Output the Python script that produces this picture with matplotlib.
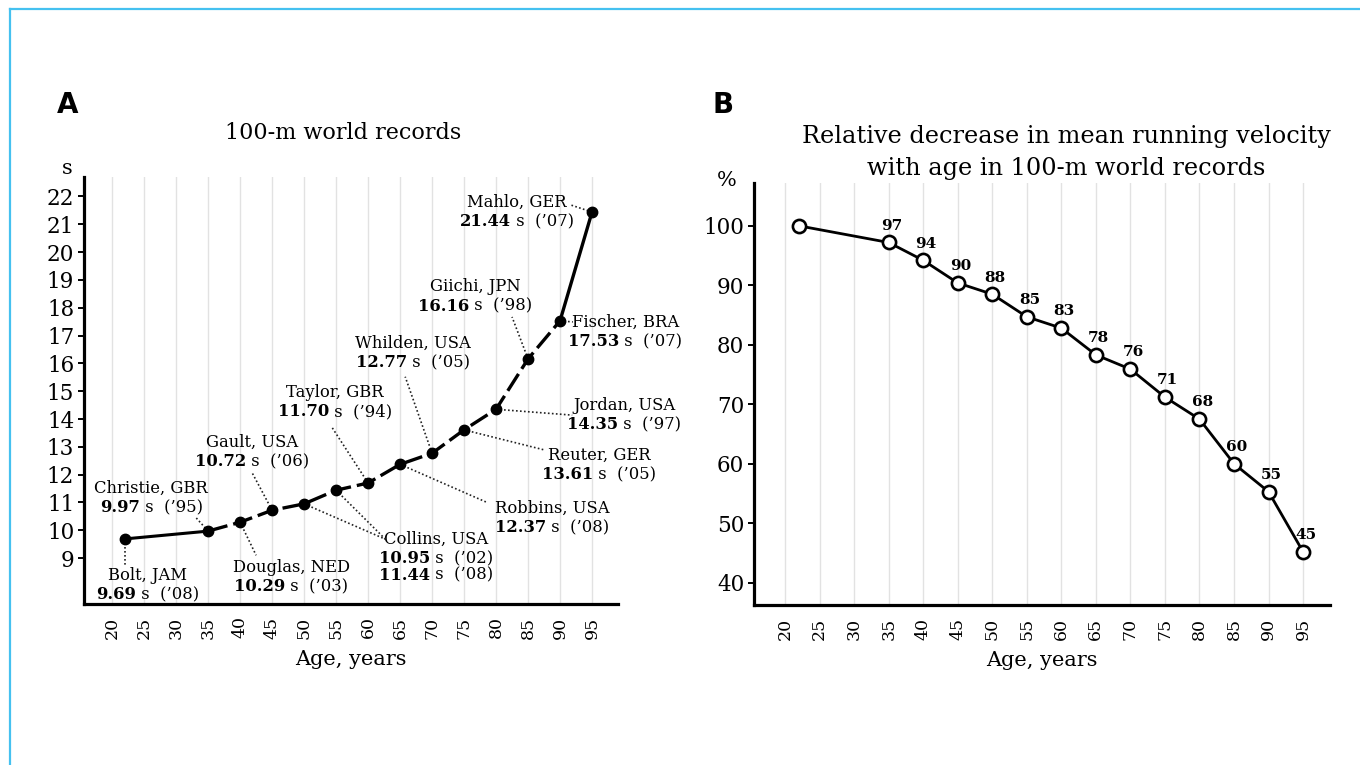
import matplotlib.pyplot as plt
from matplotlib import transforms as mtransforms
from matplotlib.lines import Line2D

## Data
ages = [22, 35, 40, 45, 50, 55, 60, 65, 70, 75, 80, 85, 90, 95]
record_times = [9.69, 9.97, 10.29, 10.72, 10.95, 11.44, 11.70, 12.37, 12.77,
                13.61, 14.35, 16.16, 17.53, 21.44]
athletes = ["Bolt, JAM", "Christie, GBR", "Douglas, NED", "Gault, USA",
            "Collins, USA", "Collins, USA", "Taylor, GBR", "Robbins, USA",
            "Whilden, USA", "Reuter, GER", "Jordan, USA", "Giichi, JPN",
            "Fischer, BRA", "Mahlo, GER"]
record_years = ["’08", "’95", "’03", "’06", "’02", "’08", "’94", "’08",
                "’05", "’05", "’97", "’98", "’07", "’07"]
rel_velocity = [100, 97.2, 94.2, 90.4, 88.5, 84.7, 82.8, 78.3, 75.9, 71.2,
                67.5, 60.0, 55.3, 45.2]
velocity_labels = ["", "97", "94", "90", "88", "85", "83", "78", "76", "71",
                   "68", "60", "55", "45"]
age_ticks = list(range(20, 100, 5))
time_ticks = list(range(9, 23))
pct_ticks = list(range(40, 101, 10))

## Where each callout sits: (text centre x, first line y, leader end x, leader end y)
## Collins (index 4 and 5) share one block
callouts = {
    0: (25.5, 8.39, 22.0, 8.70),
    1: (26.1, 11.52, 33.0, 10.48),
    2: (48.0, 8.68, 42.5, 9.10),
    3: (41.9, 13.17, 41.8, 12.10),
    4: (70.6, 9.68, 62.7, 9.68),
    6: (54.8, 14.97, 54.3, 13.72),
    7: (88.75, 10.80, 78.6, 11.00),
    8: (67.0, 16.73, 65.8, 15.52),
    9: (96.1, 12.70, 87.7, 12.88),
    10: (100.0, 14.50, 91.9, 14.14),
    11: (76.7, 18.75, 82.5, 17.67),
    12: (100.2, 17.49, 92.0, 17.49),
    13: (83.3, 21.80, 91.6, 21.70),
}

SERIF = "DejaVu Serif"
plt.rcParams['font.family'] = SERIF

W, H = 1360, 765
fig = plt.figure(figsize=(W / 100, H / 100), dpi=100)


def px_axes(left, top, right, bottom):
    return fig.add_axes([left / W, 1 - bottom / H, (right - left) / W, (bottom - top) / H])


def style_axes(ax, yticks):
    for side in ['top', 'right']:
        ax.spines[side].set_visible(False)
    for side in ['left', 'bottom']:
        ax.spines[side].set_linewidth(2.3)
    ax.set_xticks(age_ticks)
    ax.set_xticklabels([str(a) for a in age_ticks], rotation=90, fontsize=12.5)
    ax.set_yticks(yticks)
    ax.set_yticklabels([str(v) for v in yticks], fontsize=15.5)
    ax.tick_params(axis='x', length=0, pad=9)
    ax.tick_params(axis='y', length=4, width=1.4, pad=3)
    ax.grid(axis='x', color='#e2e2e2', lw=1.0)
    ax.set_axisbelow(True)


## Panel A
axA = px_axes(84, 177, 618, 604)
axA.set_xlim(15.6, 99.06)
axA.set_ylim(7.35, 22.7)
style_axes(axA, time_ticks)

axA.plot(ages[:2], record_times[:2], '-', color='black', lw=2.2)
axA.plot(ages[1:13], record_times[1:13], color='black', lw=2.4, ls=(0, (6, 1.8)))
axA.plot(ages[12:], record_times[12:], '-', color='black', lw=2.4)
axA.plot(ages, record_times, 'o', color='black', ms=7.5, zorder=5)

pairs = []
step = 0.7
for i, (cx, cy, lx, ly) in callouts.items():
    axA.text(cx, cy, athletes[i], ha='center', va='center', fontsize=11.8, clip_on=False)
    rows = [i, i + 1] if i == 4 else [i]
    for k, j in enumerate(rows):
        yy = cy - step * (k + 1) * (0.92 if k else 1)
        t1 = axA.text(cx, yy, "%.2f" % record_times[j], fontweight='bold',
                      ha='left', va='center', fontsize=11.8)
        t2 = axA.text(cx, yy, " s  (%s)" % record_years[j], ha='left',
                      va='center', fontsize=11.8)
        pairs.append((t1, t2))
        axA.plot([ages[j], lx], [record_times[j], ly], color='#222222', lw=1.2,
                 ls=(0, (1, 1.4)), clip_on=False, zorder=3)

axA.set_xlabel("Age, years", fontsize=15, labelpad=8)

## Panel B
axB = px_axes(754, 183, 1330, 605)
axB.set_xlim(15.5, 98.9)
axB.set_ylim(36.25, 107.2)
style_axes(axB, pct_ticks)

axB.plot(ages, rel_velocity, '-', color='black', lw=2.0, zorder=3)
axB.plot(ages, rel_velocity, 'o', ms=9.5, mfc='white', mec='black', mew=1.9, zorder=4)
for a, v, lab in zip(ages, rel_velocity, velocity_labels):
    axB.annotate(lab, (a, v), xytext=(2, 7), textcoords='offset points',
                 ha='center', va='bottom', fontsize=11, fontweight='bold')
axB.set_xlabel("Age, years", fontsize=15, labelpad=8)

## Titles, units and panel letters
fig.text(343 / W, 1 - 133 / H, "100-m world records", ha='center', va='center', fontsize=16)
fig.text(1066 / W, 1 - 137 / H, "Relative decrease in mean running velocity",
         ha='center', va='center', fontsize=17.3)
fig.text(1066 / W, 1 - 169 / H, "with age in 100-m world records",
         ha='center', va='center', fontsize=17.3)
fig.text(67 / W, 1 - 168 / H, "s", ha='center', va='center', fontsize=15)
fig.text(727 / W, 1 - 180 / H, "%", ha='center', va='center', fontsize=15)
fig.text(68 / W, 1 - 105 / H, "A", ha='center', va='center', fontsize=20,
         fontweight='bold', family='DejaVu Sans')
fig.text(723 / W, 1 - 105 / H, "B", ha='center', va='center', fontsize=20,
         fontweight='bold', family='DejaVu Sans')

## Light blue frame on top and left edge
fig.add_artist(Line2D([10 / W, 1], [1 - 9 / H, 1 - 9 / H], color='#45c1f0', lw=1.6,
                      transform=fig.transFigure))
fig.add_artist(Line2D([10 / W, 10 / W], [0, 1 - 9 / H], color='#45c1f0', lw=1.6,
                      transform=fig.transFigure))

## Centre each "value s (year)" line from the two pieces
fig.canvas.draw()
renderer = fig.canvas.get_renderer()
for t1, t2 in pairs:
    w1 = t1.get_window_extent(renderer).width
    w2 = t2.get_window_extent(renderer).width
    start = -(w1 + w2) / 2
    t1.set_transform(mtransforms.offset_copy(axA.transData, fig=fig, x=start, y=0, units='dots'))
    t2.set_transform(mtransforms.offset_copy(axA.transData, fig=fig, x=start + w1, y=0, units='dots'))
    t1.set_clip_on(False)
    t2.set_clip_on(False)

fig.savefig("out.png", dpi=100)
